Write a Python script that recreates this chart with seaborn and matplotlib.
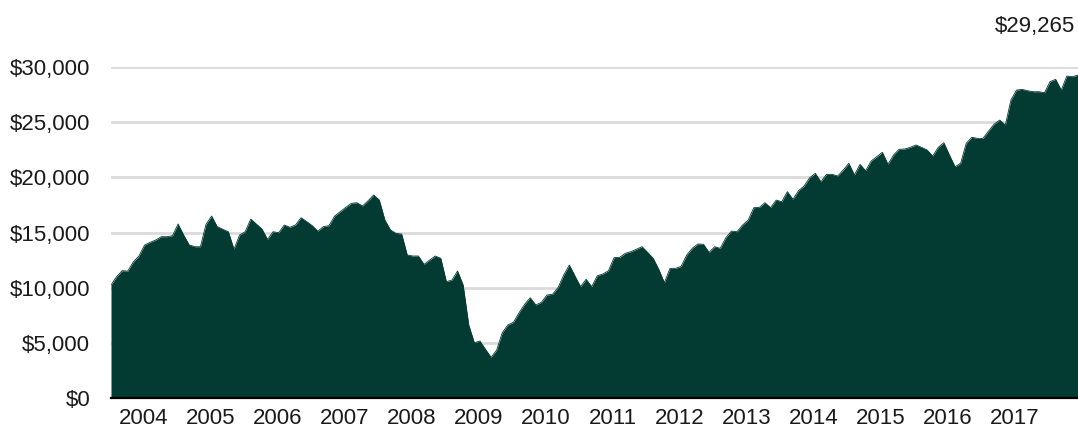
import numpy as np
import pandas as pd
import matplotlib
matplotlib.use("Agg")
import matplotlib.pyplot as plt
import seaborn as sns

# Monthly growth of a hypothetical investment
start_year = 2003.52
values = [
    10240, 11000, 11540, 11500, 12350, 12870, 13860, 14110, 14320, 14620,
    14620, 14710, 15770, 14770, 13870, 13710, 13710, 15740, 16490, 15530,
    15290, 15070, 13480, 14770, 15070, 16220, 15770, 15320, 14380, 15070,
    14980, 15680, 15470, 15680, 16340, 15990, 15620, 15130, 15530, 15620,
    16490, 16880, 17280, 17640, 17700, 17400, 17880, 18400, 17940, 16130,
    15230, 14920, 14860,
    12960, 12870, 12870, 12110, 12500, 12870, 12660, 10540, 10690, 11510,
    10240, 6620, 5010, 5160, 4410, 3690, 4350, 5920, 6620, 6860,
    7730, 8490, 9090, 8430, 8670, 9330, 9400, 10030, 11150, 12050,
    11060, 10090, 10760, 10090, 11080, 11240, 11540, 12720, 12750, 13110,
    13260, 13480, 13710, 13200, 12660, 11660, 10450, 11750, 11750, 11930,
    12960, 13570, 13960, 13930, 13200, 13710, 13570, 14530, 15130, 15070,
    15680, 16130, 17250, 17280, 17700, 17250, 17940, 17790, 18700, 18010,
    18790, 19210, 19970, 20360, 19600, 20270, 20270, 20120, 20660, 21270,
    20210, 21180, 20600, 21480, 21870, 22270, 21180, 22020, 22540, 22570,
    22720, 22930, 22720, 22480, 21930, 22720, 23140, 22020, 20960, 21270,
    23080, 23630, 23530, 23530, 24200, 24830, 25190, 24740, 27010, 27910,
    27970, 27850, 27760, 27760, 27670, 28670, 28880, 27910, 29180, 29120,
    29265,
]
year_ticks = list(range(2004, 2018))
y_ticks = [0, 5000, 10000, 15000, 20000, 25000, 30000]

df = pd.DataFrame({
    "year": start_year + np.arange(len(values)) / 12.0,
    "value": values,
})

sns.set_style("white")
plt.rcParams["font.family"] = ["Liberation Sans", "DejaVu Sans"]

GREEN = "#033a32"
fig = plt.figure(figsize=(10.78, 4.33), dpi=100)
ax = fig.add_axes([111 / 1078, 35 / 433, 967 / 1078, 331 / 433])

ax.fill_between(df["year"], 0, df["value"], color=GREEN, linewidth=0, zorder=2)
sns.lineplot(data=df, x="year", y="value", ax=ax, color=GREEN, linewidth=0.6, zorder=3)

ax.set_xlim(df["year"].iloc[0], df["year"].iloc[-1])
ax.set_ylim(0, 30000)
ax.set_yticks(y_ticks)
ax.set_yticklabels([f"${v:,.0f}" for v in y_ticks])
ax.set_xticks(year_ticks)
ax.set_xticklabels([str(y) for y in year_ticks])
ax.set_xlabel("")
ax.set_ylabel("")

ax.grid(axis="y", color="#d9d9d9", linewidth=1.9, zorder=0)
ax.grid(axis="x", visible=False)
ax.set_axisbelow(True)
for s in ["top", "right", "left"]:
    ax.spines[s].set_visible(False)
ax.spines["bottom"].set_color("#000000")
ax.spines["bottom"].set_linewidth(1.6)
ax.spines["bottom"].set_zorder(5)

ax.tick_params(axis="y", length=0, pad=15, labelsize=16, labelcolor="#1a1a1a")
ax.tick_params(axis="x", length=3.5, width=1, color="#555555", pad=4,
               labelsize=16, labelcolor="#1a1a1a", direction="out")

last = values[-1]
ax.annotate(f"${last:,.0f}", xy=(df["year"].iloc[-1], last),
            xytext=(-3, 49), textcoords="offset pixels",
            ha="right", va="center", fontsize=16, color="#1a1a1a",
            annotation_clip=False)

fig.savefig("out.png", dpi=100)
